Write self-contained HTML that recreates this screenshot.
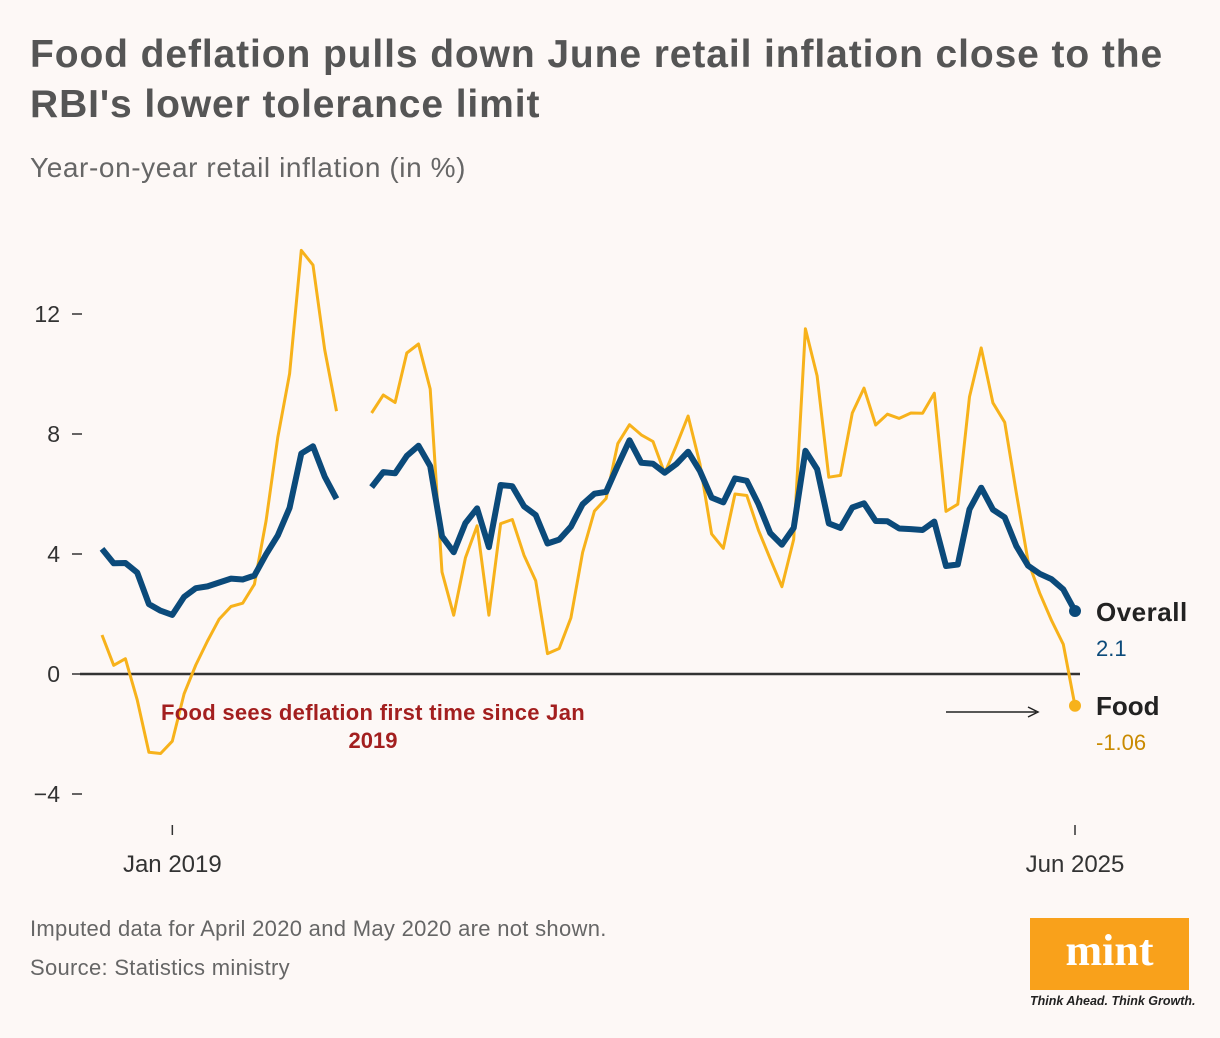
<!DOCTYPE html>
<html><head><meta charset="utf-8"><style>
body{margin:0;width:1220px;height:1038px;background:#fdf8f6;font-family:"Liberation Sans",sans-serif;position:relative;overflow:hidden}
.t{position:absolute}
</style></head><body>
<div class="t" style="left:30px;top:30px;font-size:39px;font-weight:bold;color:#555;line-height:50px;letter-spacing:0.9px;white-space:nowrap">Food deflation pulls down June retail inflation close to the<br>RBI's lower tolerance limit</div>
<div class="t" style="left:30px;top:152px;font-size:28px;color:#666;letter-spacing:0.6px">Year-on-year retail inflation (in %)</div>
<svg id="c" width="1220" height="1038" style="position:absolute;left:0;top:0"></svg>
<div class="t" style="left:30px;top:916px;font-size:22px;color:#666;letter-spacing:0.3px">Imputed data for April 2020 and May 2020 are not shown.</div>
<div class="t" style="left:30px;top:955px;font-size:22px;color:#666;letter-spacing:0.3px">Source: Statistics ministry</div>
<div class="t" style="left:1030px;top:918px;width:159px;height:72px;background:#f9a11b;color:#fff;font-family:'Liberation Serif',serif;font-weight:bold;font-size:44px;text-align:center;line-height:66px">mint</div>
<div class="t" style="left:1030px;top:994px;font-size:12.5px;font-style:italic;font-weight:bold;color:#222">Think Ahead. Think Growth.</div>
<script>
const overall=[4.17,3.69,3.70,3.38,2.33,2.11,1.97,2.57,2.86,2.92,3.05,3.18,3.15,3.28,3.99,4.62,5.54,7.35,7.59,6.58,5.84,null,null,6.23,6.73,6.69,7.27,7.61,6.93,4.59,4.06,5.03,5.52,4.23,6.30,6.26,5.59,5.30,4.35,4.48,4.91,5.66,6.01,6.07,6.95,7.79,7.04,7.01,6.71,7.00,7.41,6.77,5.88,5.72,6.52,6.44,5.66,4.70,4.31,4.87,7.44,6.83,5.02,4.87,5.55,5.69,5.10,5.09,4.85,4.83,4.80,5.08,3.60,3.65,5.49,6.21,5.48,5.22,4.26,3.61,3.34,3.16,2.82,2.10];
const food=[1.30,0.29,0.51,-0.86,-2.61,-2.65,-2.24,-0.66,0.30,1.10,1.83,2.25,2.36,2.99,5.11,7.89,10.01,14.12,13.63,10.81,8.76,null,null,8.7,9.3,9.05,10.7,11.0,9.5,3.4,1.96,3.87,4.94,1.96,5.01,5.15,3.96,3.11,0.68,0.85,1.87,4.05,5.43,5.85,7.68,8.31,7.97,7.75,6.69,7.62,8.60,7.01,4.67,4.19,6.00,5.95,4.79,3.84,2.91,4.49,11.51,9.94,6.56,6.62,8.70,9.53,8.30,8.66,8.52,8.70,8.69,9.36,5.42,5.66,9.24,10.87,9.04,8.39,6.02,3.75,2.69,1.78,0.99,-1.06];
const yTicks=[12,8,4,0,-4];
const xTickIdx=[6,83];
const xTickLabels=["Jan 2019","Jun 2025"];
const N=84;
const x=i=>102+i*(1075-102)/(N-1);
const y=v=>674-v*30;
const svg=document.getElementById('c');
const NS='http://www.w3.org/2000/svg';
function mk(t,a){const e=document.createElementNS(NS,t);for(const k in a)e.setAttribute(k,a[k]);svg.appendChild(e);return e;}
yTicks.forEach(v=>{
 const l=mk('line',{x1:72,x2:82,y1:y(v),y2:y(v),stroke:'#333','stroke-width':1.5});
 
 
 const t=mk('text',{x:60,y:y(v)+8,'text-anchor':'end','font-size':23,fill:'#333','font-family':'Liberation Sans'});
 t.textContent=v<0?'\u2212'+(-v):v;
 
 
});
const zl=mk('line',{x1:80,x2:1080,y1:y(0),y2:y(0),stroke:'#333','stroke-width':2.5});


xTickIdx.forEach((i,k)=>{
 const l=mk('line',{x1:x(i),x2:x(i),y1:825,y2:835,stroke:'#333','stroke-width':1.5});
 
 
 const t=mk('text',{x:x(i),y:872,'text-anchor':'middle','font-size':24,fill:'#333','font-family':'Liberation Sans'});
 t.textContent=xTickLabels[k];
 
 
});
function path(arr){let d='',pen=false;arr.forEach((v,i)=>{if(v==null){pen=false;return;}d+=(pen?'L':'M')+x(i).toFixed(1)+' '+y(v).toFixed(1);pen=true;});return d;}
const fp=mk('path',{d:path(food),fill:'none',stroke:'#f7b21b','stroke-width':3,'stroke-linejoin':'round'});


const op=mk('path',{d:path(overall),fill:'none',stroke:'#0b4a7a','stroke-width':6,'stroke-linejoin':'round'});


const od=mk('circle',{cx:x(N-1),cy:y(overall[N-1]),r:6,fill:'#0b4a7a'});


const fd=mk('circle',{cx:x(N-1),cy:y(food[N-1]),r:6,fill:'#f7b21b'});


function txt(s,xx,yy,sz,fill,w,name,anchor){const t=mk('text',{x:xx,y:yy,'font-size':sz,fill:fill,'font-weight':w,'font-family':'Liberation Sans','text-anchor':anchor||'start'});t.textContent=s;return t;}
txt('Overall',1096,621,26,'#222','bold','overall-label').setAttribute('letter-spacing','0.5');
txt(overall[N-1].toFixed(1),1096,656,22,'#0b4a7a','normal','overall-value');
txt('Food',1096,715,26,'#222','bold','food-label');
txt(food[N-1].toFixed(2),1096,750,22,'#c98a00','normal','food-value');
txt('Food sees deflation first time since Jan',373,720,22,'#a31f1f','bold','annotation-line1','middle').setAttribute('letter-spacing','0.3');
txt('2019',373,748,22,'#a31f1f','bold','annotation-line2','middle');
const ar=mk('line',{x1:946,x2:1036,y1:712,y2:712,stroke:'#222','stroke-width':1.5});


const ah=mk('path',{d:'M1028 707 L1038 712 L1028 717',fill:'none',stroke:'#222','stroke-width':1.5});


</script>
</body></html>
